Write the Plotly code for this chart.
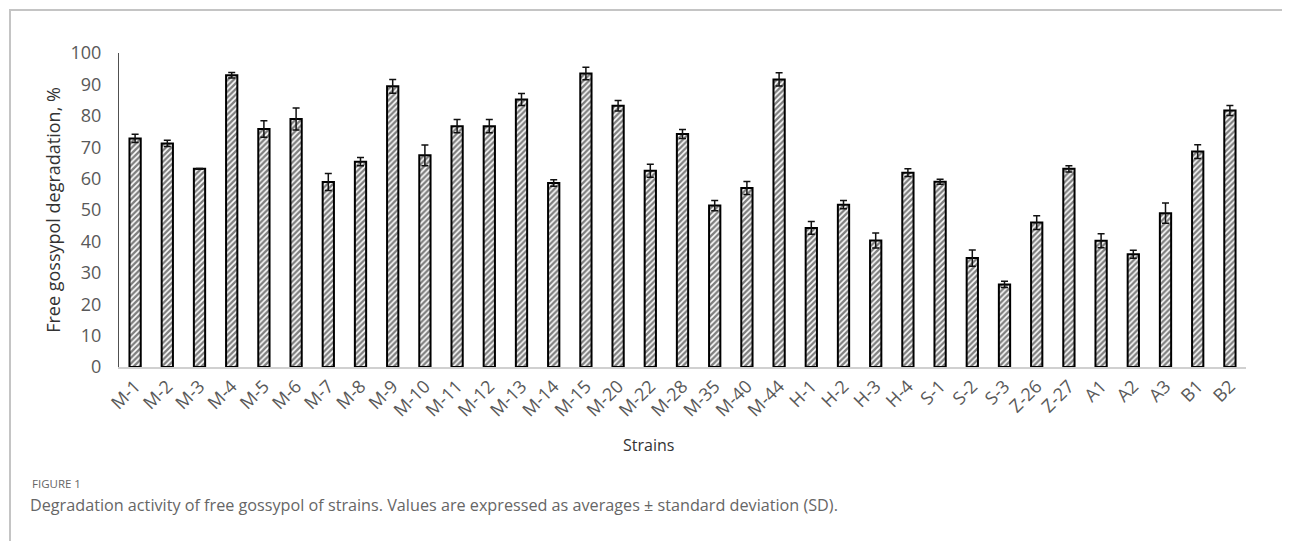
import plotly.graph_objects as go

strains = ["M-1", "M-2", "M-3", "M-4", "M-5", "M-6", "M-7", "M-8", "M-9", "M-10",
           "M-11", "M-12", "M-13", "M-14", "M-15", "M-20", "M-22", "M-28", "M-35", "M-40",
           "M-44", "H-1", "H-2", "H-3", "H-4", "S-1", "S-2", "S-3", "Z-26", "Z-27",
           "A1", "A2", "A3", "B1", "B2"]
degradation = [72.8, 71.2, 63.1, 92.9, 75.8, 79.0, 58.9, 65.4, 89.4, 67.4,
               76.7, 76.7, 85.2, 58.6, 93.5, 83.2, 62.5, 74.2, 51.4, 57.0,
               91.6, 44.3, 51.7, 40.3, 61.9, 59.0, 34.7, 26.3, 46.0, 63.1,
               40.2, 35.9, 49.0, 68.6, 81.7]
sd = [1.3, 1.0, 0.1, 0.9, 2.6, 3.5, 2.7, 1.3, 2.2, 3.3,
      2.1, 2.1, 1.9, 1.0, 2.0, 1.7, 2.1, 1.4, 1.6, 2.1,
      2.1, 2.0, 1.3, 2.4, 1.2, 0.8, 2.6, 1.0, 2.2, 1.0,
      2.2, 1.3, 3.2, 2.2, 1.6]
y_ticks = [0, 10, 20, 30, 40, 50, 60, 70, 80, 90, 100]

# page body has an 8px margin: work in reference-pixel coordinates and shift
OFF = 8
W, H = 1290 - OFF, 541 - OFF
L, R, T, B = 119 - OFF, 1246 - OFF, 53 - OFF, 367 - OFF

def px(x):
    return (x - OFF - L) / (R - L)

def py(y):
    return (B - (y - OFF)) / (B - T)

fig = go.Figure()
fig.add_trace(go.Bar(
    x=strains, y=degradation,
    width=0.35,
    marker=dict(color="white",
                line=dict(color="black", width=2),
                pattern=dict(shape="/", fgcolor="black", bgcolor="white", size=4, solidity=0.6)),
    error_y=dict(type="data", array=sd, visible=True, color="#111111", thickness=1.5, width=3.5),
))

tickfont = dict(family="Open Sans, sans-serif", size=18, color="#595959")
fig.update_layout(
    width=W, height=H,
    margin=dict(l=L, r=W - R, t=T, b=H - B),
    paper_bgcolor="white", plot_bgcolor="white",
    showlegend=False,
    xaxis=dict(tickangle=-45, tickfont=tickfont, showgrid=False, ticks="",
               showline=True, linecolor="#d0d0d0", linewidth=1.5,
               range=[-0.5, len(strains) - 0.5]),
    yaxis=dict(range=[0, 100], tickvals=y_ticks, tickfont=tickfont, showgrid=False,
               ticks="", showline=True, linecolor="#505050", linewidth=1,
               zeroline=False, ticklabelstandoff=13,
               title=dict(text="Free gossypol degradation, %", standoff=5,
                          font=dict(family="Open Sans, sans-serif", size=18, color="#333333"))),
)

fig.add_annotation(text="Strains", xref="paper", yref="paper", x=px(648), y=py(445),
                   showarrow=False, xanchor="center", yanchor="middle",
                   font=dict(family="Open Sans, sans-serif", size=16, color="#333333"))
fig.add_annotation(text="FIGURE 1", xref="paper", yref="paper", x=px(30), y=py(483),
                   showarrow=False, xanchor="left", yanchor="middle",
                   font=dict(family="Open Sans, sans-serif", size=11.5, color="#666666"))
fig.add_annotation(text="Degradation activity of free gossypol of strains. Values are expressed as averages \u00b1 standard deviation (SD).",
                   xref="paper", yref="paper", x=px(28), y=py(505),
                   showarrow=False, xanchor="left", yanchor="middle",
                   font=dict(family="Open Sans, sans-serif", size=16.2, color="#666666"))

frame = dict(color="#c4c4c4", width=2)
fig.add_shape(type="line", xref="paper", yref="paper", x0=px(10), x1=px(10), y0=py(10), y1=py(545), line=frame)
fig.add_shape(type="line", xref="paper", yref="paper", x0=px(9), x1=px(1295), y0=py(10), y1=py(10), line=frame)

fig.write_html("out.html")
